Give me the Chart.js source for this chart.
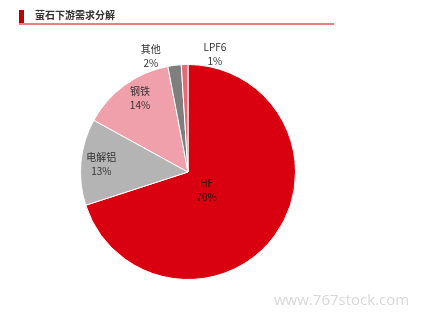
<!DOCTYPE html>
<html>
<head>
<meta charset="utf-8">
<script src="https://cdn.jsdelivr.net/npm/chart.js@4"></script>
<style>
  body { margin: 0; background: #fff; }
  #wrap { position: relative; width: 430px; height: 316px; font-family: "Noto Sans CJK SC", sans-serif; }
  #bar { position: absolute; left: 19px; top: 10px; width: 5px; height: 15px; background: #c00000; }
  #title { position: absolute; left: 35px; top: 7px; font-size: 10px; font-weight: bold; color: #333; }
  #rule { position: absolute; left: 19px; top: 23px; width: 315px; height: 2px; background: #e88080; }
  #mark { position: absolute; left: 274px; top: 289px; font-family: "Open Sans", sans-serif; font-size: 15px; color: #d8d8d8; }
  canvas { position: absolute; left: 0; top: 0; }
</style>
</head>
<body>
<div id="wrap">
  <canvas id="pie" width="430" height="316"></canvas>
  <div id="bar"></div>
  <div id="title">萤石下游需求分解</div>
  <div id="rule"></div>
  <div id="mark">www.767stock.com</div>
</div>
<script>
// 萤石下游需求 (%)
const categories = ['HF', '电解铝', '钢铁', '其他', 'LPF6'];
const shares = [70, 13, 14, 2, 1];
const colors = ['#d9000f', '#b4b4b4', '#f0a0aa', '#7f7f7f', '#e36b78'];

// label placement: distance as fraction of radius, angle shift in degrees
const labelPos = [
    { r: 0.24, shift: 8 },
    { r: 0.81, shift: 0 },
    { r: 0.82, shift: 3 },
    { r: 1.13, shift: -10.6 },
    { r: 1.12, shift: 14.7 }
];

const sliceLabels = {
    id: 'sliceLabels',
    afterDatasetsDraw(chart) {
        const ctx = chart.ctx;
        const arcs = chart.getDatasetMeta(0).data;
        ctx.save();
        ctx.font = '10px "Noto Sans CJK SC", sans-serif';
        ctx.textAlign = 'center';
        ctx.textBaseline = 'middle';
        arcs.forEach((arc, i) => {
            const p = labelPos[i];
            const mid = (arc.startAngle + arc.endAngle) / 2 + p.shift * Math.PI / 180;
            const d = arc.outerRadius * p.r;
            const x = arc.x + Math.cos(mid) * d;
            const y = arc.y + Math.sin(mid) * d;
            ctx.fillStyle = i === 0 ? '#111' : '#333';
            ctx.fillText(categories[i], x, y - 7);
            ctx.fillText(shares[i] + '%', x, y + 7);
        });
        ctx.restore();
    }
};

new Chart(document.getElementById('pie'), {
    type: 'pie',
    data: {
        labels: categories,
        datasets: [{
            data: shares,
            backgroundColor: colors,
            borderColor: '#fff',
            borderWidth: 1
        }]
    },
    options: {
        responsive: false,
        animation: false,
        layout: { padding: { left: 80, right: 134, top: 64, bottom: 36 } },
        plugins: {
            legend: { display: false },
            tooltip: { enabled: false }
        }
    },
    plugins: [sliceLabels]
});
</script>
</body>
</html>
